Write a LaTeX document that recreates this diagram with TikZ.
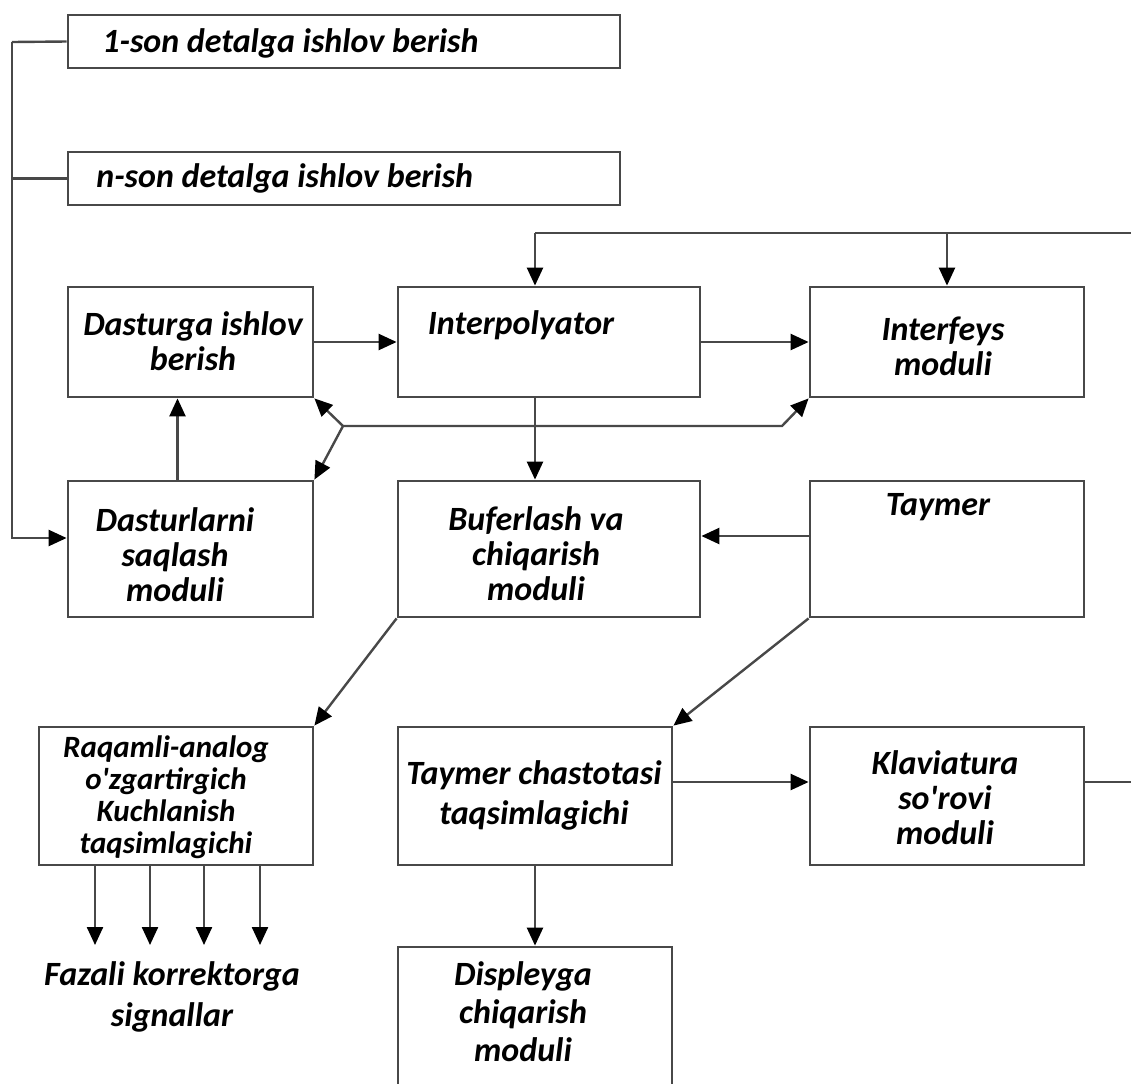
\documentclass[tikz,border=0pt]{standalone}
\usepackage{fontspec}
\setmainfont{Carlito}
\usetikzlibrary{arrows.meta,fit,calc}
\definecolor{linegray}{RGB}{72,72,72}
\begin{document}
\begin{tikzpicture}[x=0.5pt,y=-0.5pt,
  box/.style={draw=linegray, line width=1.4pt, inner sep=0pt},
  conn/.style={draw=linegray, line width=1.2pt},
  arr/.style={conn, -{Triangle[length=9pt,width=8pt,color=black]}},
  lbl/.style={font=\bfseries\itshape\fontsize{17}{17.5}\selectfont, align=center, inner sep=0pt}]
\useasboundingbox (0,0) rectangle (1131,1083);
% boxes
\node[box, fit={(68,15) (620,68)}] (b1) {};
\node[box, fit={(68,152) (620,205)}] (bn) {};
\node[box, fit={(68,287) (313,397)}] (dast) {};
\node[box, fit={(398,287) (700,397)}] (interp) {};
\node[box, fit={(810,287) (1084,397)}] (interf) {};
\node[box, fit={(68,481) (313,617)}] (store) {};
\node[box, fit={(398,481) (700,617)}] (buf) {};
\node[box, fit={(810,481) (1084,617)}] (taymer) {};
\node[box, fit={(39,727) (313,865)}] (raq) {};
\node[box, fit={(398,727) (672,865)}] (tcd) {};
\node[box, fit={(810,727) (1084,865)}] (klav) {};
\node[box, fit={(398,947) (672,1092)}] (disp) {};
% texts
\node[lbl, anchor=west] (t1) at (102,43) {1-son detalga ishlov berish};
\node[lbl, anchor=west] (tn) at (96,178) {n-son detalga ishlov berish};
\node[lbl] (tdast) at (193,341) {Dasturga ishlov\\berish};
\node[lbl] (tinterp) at (521,325) {Interpolyator};
\node[lbl] (tinterf) at (943,346) {Interfeys\\moduli};
\node[lbl] (tstore) at (175,555) {Dasturlarni\\saqlash\\moduli};
\node[lbl] (tbuf) at (536,554) {Buferlash va\\chiqarish\\moduli};
\node[lbl] (ttaymer) at (938,507) {Taymer};
\node[lbl, font=\bfseries\itshape\fontsize{15.5}{16}\selectfont] (traq) at (166,797) {Raqamli-analog\\o\textquotesingle zgartirgich\\Kuchlanish\\taqsimlagichi};
\node[lbl, font=\bfseries\itshape\fontsize{17}{20}\selectfont] (ttcd) at (534,795) {Taymer chastotasi\\taqsimlagichi};
\node[lbl] (tklav) at (945,798) {Klaviatura\\so\textquotesingle rovi\\moduli};
\node[lbl, font=\bfseries\itshape\fontsize{17}{19}\selectfont] (tdisp) at (523,1012) {Displeyga\\chiqarish\\moduli};
\node[lbl, font=\bfseries\itshape\fontsize{17}{20.5}\selectfont] (tfaz) at (172,997) {Fazali korrektorga\\signallar};
% left bus
\coordinate (busT) at (12,42);
\draw[conn] (b1.west) -- (busT);
\draw[conn] (bn.west) -- (bn.west -| busT);
\draw[arr] (busT) |- ([yshift=5.5pt]store.west);
% top bus
\coordinate (topL) at (535,233);
\coordinate (topR) at (1131,233);
\draw[conn] (topR) -- (topL);
\draw[arr] (topL) -- (topL |- interp.north);
\draw[arr] (topR -| interf.north) -- (interf.north);
% horizontal flows
\draw[arr] (dast.east) -- (interp.west);
\draw[arr] (interp.east) -- (interf.west);
\draw[arr] ([xshift=-6.5pt]store.north) -- ([xshift=-6.5pt]dast.south);
\draw[arr] ([xshift=-7pt]interp.south) -- ([xshift=-7pt]buf.north);
% branch
\coordinate (br) at (343,426);
\coordinate (bk) at (782,426);
\draw[arr] (br) -- (dast.south east);
\draw[arr] (br) -- (store.north east);
\draw[arr] (br) -- (bk) -- (interf.south west);
% lower part
\draw[arr] ([yshift=6.5pt]taymer.west) -- ([yshift=6.5pt]buf.east);
\draw[arr] (taymer.south west) -- (tcd.north east);
\draw[arr] (buf.south west) -- (raq.north east);
\draw[arr] ([yshift=7pt]tcd.east) -- ([yshift=7pt]klav.west);
\coordinate (kR) at (1131,782);
\draw[conn] ([yshift=7pt]klav.east) -- (kR);
\draw[arr] (tcd.south) -- (disp.north);
% signal arrows
\foreach \i/\x in {1/95,2/150,3/204,4/260}{
  \coordinate (f\i) at (\x,945);
  \draw[arr] (f\i |- raq.south) -- (f\i);
}
\end{tikzpicture}
\end{document}
